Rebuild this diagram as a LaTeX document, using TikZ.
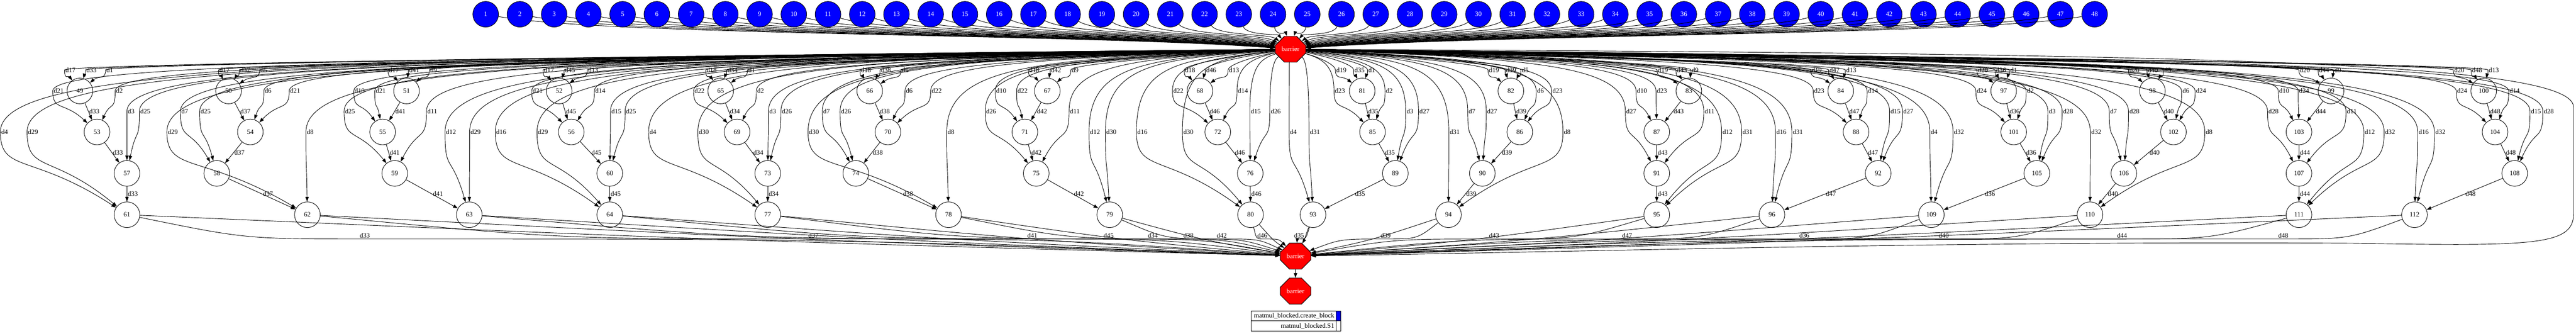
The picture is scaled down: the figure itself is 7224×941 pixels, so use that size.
\documentclass[tikz,border=0pt]{standalone}
\usepackage{fontspec}
\setmainfont{Liberation Serif}
\usetikzlibrary{calc, shapes.misc, arrows.meta}
\tikzset{
>={Triangle[length=10pt,width=7pt]},
task/.style={circle, draw=black, line width=1pt, fill=blue, text=white, minimum size=54pt, inner sep=0pt, font=\fontsize{14}{16}\selectfont},
op/.style={circle, draw=black, line width=1pt, fill=white, minimum size=54pt, inner sep=0pt, font=\fontsize{14}{16}\selectfont},
barrier/.style={chamfered rectangle, chamfered rectangle xsep=19.5pt, chamfered rectangle ysep=14.6pt, draw=black, line width=1pt, fill=red, text=white, minimum width=64.5pt, minimum height=54.75pt, inner sep=0pt, font=\fontsize{14}{16}\selectfont},
dep/.style={draw=black, line width=1pt, ->},
lbl/.style={font=\fontsize{14}{16}\selectfont, inner sep=1.5pt},
}
% create_block task feeding the first barrier
\newcommand\mkblock[2]{\node[task] (t#1) at (#2,40) {#1};
  \draw[dep] (t#1) .. controls ({#2+0.15*(3619-#2)},100) and ({#2+0.75*(3619-#2)},95) .. (hub);}
% barrier -> S1 task, label where the edge turns down
\newcommand\fromhub[4]{\draw[dep] (hub) .. controls ({0.75*(#2-14)+905},165) and ({#2-14},185) .. ({#2-14},#3) coordinate (wp) node[lbl,anchor=west]{#4}
  .. controls ($(wp)!.5!(wp |- #1)$) and ($(#1)!.75!(wp)$) .. (#1);}
\newcommand\chain[5]{\draw[dep] (#1) to node[lbl,right]{#5} (#2);
  \draw[dep] (#2) to node[lbl,right]{#5} (#3);
  \draw[dep] (#3) to node[lbl,right]{#5} (#4);}
\newcommand\tosink[3]{\coordinate (lab) at (#2,670);
  \draw[dep] (#1) .. controls ($(#1 |- lab)!.5!(lab)$) .. (lab) node[lbl,above]{#3} .. controls ($(lab)!.5!(sink |- lab)$) .. (sink);
  \draw[dep] (#1) .. controls ($(#1 |- sink)!.5!(sink)+(0,-45)$) .. (sink);}

\begin{document}
\begin{tikzpicture}[x=0.75pt, y=-0.75pt]
    \useasboundingbox (0,0) rectangle (7224,941);
    \node[barrier] (hub) at (3619,138) {barrier};
    \node[barrier] (sink) at (3633,718) {barrier};
    \node[barrier] (sink2) at (3633,816) {barrier};
    % S1 tasks, one column of four per block of C
    \node[op] (n49) at (224,255) {49};   \node[op] (n53) at (272,370) {53};   \node[op] (n57) at (356,486) {57};   \node[op] (n61) at (356,602) {61};
    \node[op] (n50) at (641,255) {50};   \node[op] (n54) at (702,370) {54};   \node[op] (n58) at (608,486) {58};   \node[op] (n62) at (862,602) {62};
    \node[op] (n51) at (1140,255) {51};  \node[op] (n55) at (1073,370) {55};  \node[op] (n59) at (1107,486) {59};  \node[op] (n63) at (1316,602) {63};
    \node[op] (n52) at (1568,255) {52};  \node[op] (n56) at (1602,370) {56};  \node[op] (n60) at (1710,486) {60};  \node[op] (n64) at (1710,602) {64};
    \node[op] (n65) at (2021,255) {65};  \node[op] (n69) at (2067,370) {69};  \node[op] (n73) at (2153,486) {73};  \node[op] (n77) at (2153,602) {77};
    \node[op] (n66) at (2439,255) {66};  \node[op] (n70) at (2490,370) {70};  \node[op] (n74) at (2400,486) {74};  \node[op] (n78) at (2660,602) {78};
    \node[op] (n67) at (2937,255) {67};  \node[op] (n71) at (2874,370) {71};  \node[op] (n75) at (2906,486) {75};  \node[op] (n79) at (3112,602) {79};
    \node[op] (n68) at (3365,255) {68};  \node[op] (n72) at (3415,370) {72};  \node[op] (n76) at (3506,486) {76};  \node[op] (n80) at (3507,602) {80};
    \node[op] (n81) at (3820,255) {81};  \node[op] (n85) at (3849,370) {85};  \node[op] (n89) at (3913,486) {89};  \node[op] (n93) at (3682,602) {93};
    \node[op] (n82) at (4237,255) {82};  \node[op] (n86) at (4262,370) {86};  \node[op] (n90) at (4157,486) {90};  \node[op] (n94) at (4062,602) {94};
    \node[op] (n83) at (4736,255) {83};  \node[op] (n87) at (4646,370) {87};  \node[op] (n91) at (4646,486) {91};  \node[op] (n95) at (4646,602) {95};
    \node[op] (n84) at (5162,255) {84};  \node[op] (n88) at (5205,370) {88};  \node[op] (n92) at (5267,486) {92};  \node[op] (n96) at (4969,602) {96};
    \node[op] (n97) at (5619,255) {97};  \node[op] (n101) at (5647,370) {101}; \node[op] (n105) at (5712,486) {105}; \node[op] (n109) at (5416,602) {109};
    \node[op] (n98) at (6036,255) {98};  \node[op] (n102) at (6095,370) {102}; \node[op] (n106) at (5956,486) {106}; \node[op] (n110) at (5861,602) {110};
    \node[op] (n99) at (6537,255) {99};  \node[op] (n103) at (6447,370) {103}; \node[op] (n107) at (6447,486) {107}; \node[op] (n111) at (6447,602) {111};
    \node[op] (n100) at (6965,255) {100}; \node[op] (n104) at (6997,370) {104}; \node[op] (n108) at (7052,486) {108}; \node[op] (n112) at (6771,602) {112};
    % create_block tasks
    \mkblock{1}{1362}  \mkblock{2}{1458}  \mkblock{3}{1554}  \mkblock{4}{1650}  \mkblock{5}{1746}  \mkblock{6}{1842}
    \mkblock{7}{1938}  \mkblock{8}{2034}  \mkblock{9}{2130}  \mkblock{10}{2226} \mkblock{11}{2322} \mkblock{12}{2418}
    \mkblock{13}{2514} \mkblock{14}{2610} \mkblock{15}{2706} \mkblock{16}{2802} \mkblock{17}{2898} \mkblock{18}{2994}
    \mkblock{19}{3090} \mkblock{20}{3186} \mkblock{21}{3282} \mkblock{22}{3378} \mkblock{23}{3474} \mkblock{24}{3570}
    \mkblock{25}{3666} \mkblock{26}{3762} \mkblock{27}{3858} \mkblock{28}{3954} \mkblock{29}{4050} \mkblock{30}{4146}
    \mkblock{31}{4242} \mkblock{32}{4338} \mkblock{33}{4434} \mkblock{34}{4530} \mkblock{35}{4626} \mkblock{36}{4722}
    \mkblock{37}{4818} \mkblock{38}{4914} \mkblock{39}{5010} \mkblock{40}{5106} \mkblock{41}{5202} \mkblock{42}{5298}
    \mkblock{43}{5394} \mkblock{44}{5490} \mkblock{45}{5586} \mkblock{46}{5682} \mkblock{47}{5778} \mkblock{48}{5874}
    % inputs of every S1 task
    \fromhub{n49}{195}{196}{d17} \fromhub{n49}{254}{196}{d33} \fromhub{n49}{310}{196}{d1}
    \fromhub{n53}{162}{255}{d21} \fromhub{n53}{337}{255}{d2} \fromhub{n57}{370}{312}{d3} \fromhub{n57}{405}{312}{d25}
    \fromhub{n61}{15}{370}{d4} \fromhub{n61}{90}{370}{d29}
    \fromhub{n50}{627}{196}{d17} \fromhub{n50}{685}{196}{d37} \fromhub{n50}{742}{196}{d5}
    \fromhub{n54}{754}{255}{d6} \fromhub{n54}{825}{255}{d21} \fromhub{n58}{520}{312}{d7} \fromhub{n58}{574}{312}{d25}
    \fromhub{n62}{482}{370}{d29} \fromhub{n62}{872}{370}{d8}
    \fromhub{n51}{1102}{196}{d17} \fromhub{n51}{1159}{196}{d41} \fromhub{n51}{1218}{196}{d9}
    \fromhub{n55}{1006}{255}{d10} \fromhub{n55}{1065}{255}{d21} \fromhub{n59}{979}{312}{d25} \fromhub{n59}{1210}{312}{d11}
    \fromhub{n63}{1262}{370}{d12} \fromhub{n63}{1331}{370}{d29}
    \fromhub{n52}{1537}{196}{d17} \fromhub{n52}{1596}{196}{d45} \fromhub{n52}{1661}{196}{d13}
    \fromhub{n56}{1505}{255}{d21} \fromhub{n56}{1681}{255}{d14} \fromhub{n60}{1726}{312}{d15} \fromhub{n60}{1767}{312}{d25}
    \fromhub{n64}{1403}{370}{d16} \fromhub{n64}{1520}{370}{d29}
    \fromhub{n65}{1993}{196}{d18} \fromhub{n65}{2052}{196}{d34} \fromhub{n65}{2110}{196}{d1}
    \fromhub{n69}{1959}{255}{d22} \fromhub{n69}{2135}{255}{d2} \fromhub{n73}{2169}{312}{d3} \fromhub{n73}{2204}{312}{d26}
    \fromhub{n77}{1833}{370}{d4} \fromhub{n77}{1971}{370}{d30}
    \fromhub{n66}{2426}{196}{d18} \fromhub{n66}{2482}{196}{d38} \fromhub{n66}{2541}{196}{d5}
    \fromhub{n70}{2552}{255}{d6} \fromhub{n70}{2624}{255}{d22} \fromhub{n74}{2320}{312}{d7} \fromhub{n74}{2370}{312}{d26}
    \fromhub{n78}{2280}{370}{d30} \fromhub{n78}{2669}{370}{d8}
    \fromhub{n67}{2898}{196}{d18} \fromhub{n67}{2959}{196}{d42} \fromhub{n67}{3017}{196}{d9}
    \fromhub{n71}{2805}{255}{d10} \fromhub{n71}{2865}{255}{d22} \fromhub{n75}{2777}{312}{d26} \fromhub{n75}{3012}{312}{d11}
    \fromhub{n79}{3068}{370}{d12} \fromhub{n79}{3114}{370}{d30}
    \fromhub{n68}{3335}{196}{d18} \fromhub{n68}{3394}{196}{d46} \fromhub{n68}{3458}{196}{d13}
    \fromhub{n72}{3302}{255}{d22} \fromhub{n72}{3483}{255}{d14} \fromhub{n76}{3519}{312}{d15} \fromhub{n76}{3575}{312}{d26}
    \fromhub{n80}{3201}{370}{d16} \fromhub{n80}{3330}{370}{d30}
    \fromhub{n81}{3759}{196}{d19} \fromhub{n81}{3810}{196}{d35} \fromhub{n81}{3849}{196}{d1}
    \fromhub{n85}{3755}{255}{d23} \fromhub{n85}{3898}{255}{d2} \fromhub{n89}{3956}{312}{d3} \fromhub{n89}{3992}{312}{d27}
    \fromhub{n93}{3629}{370}{d4} \fromhub{n93}{3685}{370}{d31}
    \fromhub{n82}{4187}{196}{d19} \fromhub{n82}{4235}{196}{d39} \fromhub{n82}{4279}{196}{d5}
    \fromhub{n86}{4322}{255}{d6} \fromhub{n86}{4365}{255}{d23} \fromhub{n90}{4130}{312}{d7} \fromhub{n90}{4182}{312}{d27}
    \fromhub{n94}{4077}{370}{d31} \fromhub{n94}{4397}{370}{d8}
    \fromhub{n83}{4661}{196}{d19} \fromhub{n83}{4714}{196}{d43} \fromhub{n83}{4756}{196}{d9}
    \fromhub{n87}{4602}{255}{d10} \fromhub{n87}{4658}{255}{d23} \fromhub{n91}{4572}{312}{d27} \fromhub{n91}{4792}{312}{d11}
    \fromhub{n95}{4842}{370}{d12} \fromhub{n95}{4898}{370}{d31}
    \fromhub{n84}{5092}{196}{d19} \fromhub{n84}{5142}{196}{d47} \fromhub{n84}{5189}{196}{d13}
    \fromhub{n88}{5099}{255}{d23} \fromhub{n88}{5250}{255}{d14} \fromhub{n92}{5313}{312}{d15} \fromhub{n92}{5349}{312}{d27}
    \fromhub{n96}{4993}{370}{d16} \fromhub{n96}{5039}{370}{d31}
    \fromhub{n97}{5558}{196}{d20} \fromhub{n97}{5609}{196}{d36} \fromhub{n97}{5649}{196}{d1}
    \fromhub{n101}{5555}{255}{d24} \fromhub{n101}{5696}{255}{d2} \fromhub{n105}{5757}{312}{d3} \fromhub{n105}{5797}{312}{d28}
    \fromhub{n109}{5426}{370}{d4} \fromhub{n109}{5491}{370}{d32}
    \fromhub{n98}{5983}{196}{d20} \fromhub{n98}{6035}{196}{d40} \fromhub{n98}{6081}{196}{d5}
    \fromhub{n102}{6132}{255}{d6} \fromhub{n102}{6170}{255}{d24} \fromhub{n106}{5929}{312}{d7} \fromhub{n106}{5983}{312}{d28}
    \fromhub{n110}{5876}{370}{d32} \fromhub{n110}{6197}{370}{d8}
    \fromhub{n99}{6461}{196}{d20} \fromhub{n99}{6515}{196}{d44} \fromhub{n99}{6558}{196}{d9}
    \fromhub{n103}{6403}{255}{d10} \fromhub{n103}{6459}{255}{d24} \fromhub{n107}{6373}{312}{d28} \fromhub{n107}{6593}{312}{d11}
    \fromhub{n111}{6643}{370}{d12} \fromhub{n111}{6700}{370}{d32}
    \fromhub{n100}{6894}{196}{d20} \fromhub{n100}{6944}{196}{d48} \fromhub{n100}{6991}{196}{d13}
    \fromhub{n104}{6902}{255}{d24} \fromhub{n104}{7049}{255}{d14} \fromhub{n108}{7109}{312}{d15} \fromhub{n108}{7145}{312}{d28}
    \fromhub{n112}{6794}{370}{d16} \fromhub{n112}{6841}{370}{d32}
    % C block handed down each column
    \chain{n49}{n53}{n57}{n61}{d33}   \chain{n50}{n54}{n58}{n62}{d37}   \chain{n51}{n55}{n59}{n63}{d41}   \chain{n52}{n56}{n60}{n64}{d45}
    \chain{n65}{n69}{n73}{n77}{d34}   \chain{n66}{n70}{n74}{n78}{d38}   \chain{n67}{n71}{n75}{n79}{d42}   \chain{n68}{n72}{n76}{n80}{d46}
    \chain{n81}{n85}{n89}{n93}{d35}   \chain{n82}{n86}{n90}{n94}{d39}   \chain{n83}{n87}{n91}{n95}{d43}   \chain{n84}{n88}{n92}{n96}{d47}
    \chain{n97}{n101}{n105}{n109}{d36} \chain{n98}{n102}{n106}{n110}{d40} \chain{n99}{n103}{n107}{n111}{d44} \chain{n100}{n104}{n108}{n112}{d48}
    % results into the closing barrier
    \tosink{n61}{1023}{d33} \tosink{n62}{2281}{d37} \tosink{n63}{2895}{d41} \tosink{n64}{3109}{d45}
    \tosink{n77}{3233}{d34} \tosink{n78}{3333}{d38} \tosink{n79}{3426}{d42} \tosink{n80}{3540}{d46}
    \tosink{n93}{3643}{d35} \tosink{n94}{3886}{d39} \tosink{n95}{4190}{d43} \tosink{n96}{4563}{d47}
    \tosink{n109}{5060}{d36} \tosink{n110}{5451}{d40} \tosink{n111}{5951}{d44} \tosink{n112}{6403}{d48}
    \draw[dep] (hub) .. controls (6000,150) and (7217,165) .. (7217,300) -- (7217,600) .. controls (7217,690) and (7100,690) .. (6600,682) .. controls (5500,675) and (4500,705) .. (sink);
    \draw[dep] (sink) -- (sink2);
    % legend
    \node[lbl, anchor=east] (legA) at (3744,886) {matmul\_blocked.create\_block};
    \node[lbl, anchor=east] (legB) at (3744,914) {matmul\_blocked.S1};
    \fill[blue] (3747,872) rectangle (3760,900);
    \draw[line width=1pt] (3508,872) rectangle (3760,928);
    \draw[line width=1pt] (3508,900) -- (3760,900);
    \draw[line width=1pt] (3747,872) -- (3747,928);
\end{tikzpicture}
\end{document}
